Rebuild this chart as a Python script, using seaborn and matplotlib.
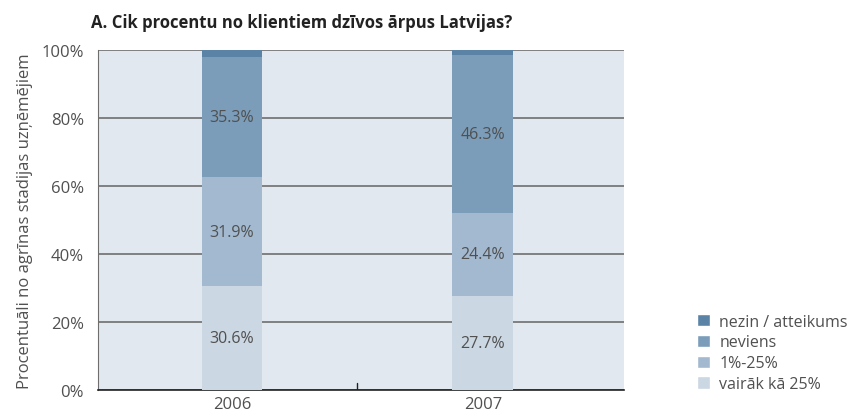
import pandas as pd
import seaborn as sns
from matplotlib import pyplot as plt
from matplotlib.patches import Patch
from matplotlib.ticker import PercentFormatter

years = ["2006", "2007"]
vairak_25 = [30.6, 27.7]
no_1_25 = [31.9, 24.4]
neviens = [35.3, 46.3]
nezin = [2.2, 1.6]

series_names = ["vairāk kā 25%", "1%-25%", "neviens", "nezin / atteikums"]
series_vals = [vairak_25, no_1_25, neviens, nezin]
colors = ["#cbd7e2", "#a3b9cf", "#7b9db9", "#5a83a5"]

sns.set_style("white")
plt.rcParams['font.family'] = ['Open Sans', 'DejaVu Sans']
text_col = "#505050"

# cumulative tops for stacked bars
df = pd.DataFrame({"year": years})
cum = [0.0, 0.0]
tops = []
for vals in series_vals:
    cum = [c + v for c, v in zip(cum, vals)]
    tops.append(cum)

fig = plt.figure(figsize=(8.49, 4.14), dpi=100)
ax = fig.add_axes([0.1154, 0.0556, 0.6196, 0.8213])
ax.set_facecolor("#e1e8f0")

for i in range(len(series_names) - 1, -1, -1):
    d = df.copy()
    d["top"] = tops[i]
    sns.barplot(data=d, x="year", y="top", color=colors[i], width=0.243,
                saturation=1, linewidth=0, ax=ax, zorder=3)

# value labels for the three main segments
for i in range(3):
    for j in range(len(years)):
        bottom = tops[i][j] - series_vals[i][j]
        ax.text(j, bottom + series_vals[i][j] / 2, f"{series_vals[i][j]:.1f}%",
                ha="center", va="center", fontsize=11.5, color=text_col, zorder=4)

ax.set_ylim(0, 100)
ax.set_xlim(-0.534, 1.562)
ax.set_yticks([0, 20, 40, 60, 80, 100])
ax.yaxis.set_major_formatter(PercentFormatter(decimals=0))
ax.yaxis.grid(True, color="#6e6e6e", linewidth=1.2, zorder=1)
ax.set_axisbelow(True)
ax.tick_params(axis="y", length=0, labelsize=12, labelcolor=text_col, pad=10)
ax.tick_params(axis="x", length=0, labelsize=12, labelcolor=text_col, pad=4)
ax.set_xlabel("")
ax.set_ylabel("Procentuāli no agrīnas stadijas uzņēmējiem", fontsize=12,
              color=text_col, labelpad=6)
ax.axvline(0.5, ymin=0, ymax=0.02, color="#222222", linewidth=1, zorder=5)

for s in ["top", "right"]:
    ax.spines[s].set_visible(False)
ax.spines["left"].set_color("#6e6e6e")
ax.spines["bottom"].set_color("#222222")
ax.spines["bottom"].set_linewidth(1.2)

fig.text(0.107, 0.945, "A. Cik procentu no klientiem dzīvos ārpus Latvijas?",
         fontsize=12, fontweight="bold", color="#222222", va="center")

handles = [Patch(facecolor=colors[i], label=series_names[i]) for i in range(3, -1, -1)]
fig.legend(handles=handles, loc="upper left", bbox_to_anchor=(0.821, 0.24),
           frameon=False, fontsize=11.5, labelcolor=text_col, handlelength=0.8,
           handleheight=0.8, handletextpad=0.6, labelspacing=0.3,
           borderaxespad=0, borderpad=0)

plt.savefig("out.png", dpi=100)
